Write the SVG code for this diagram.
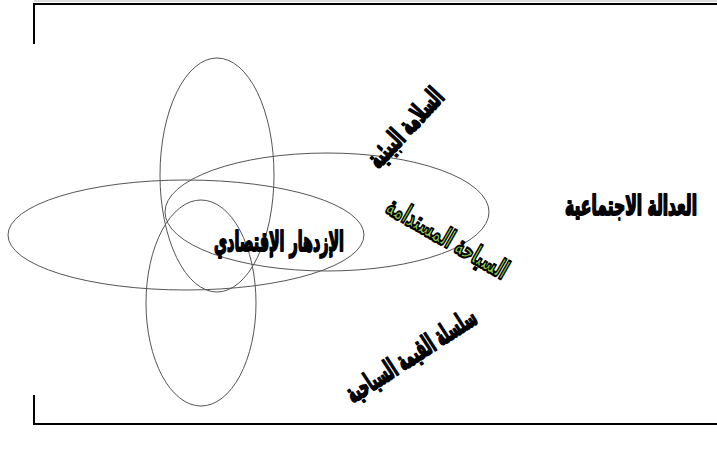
<svg xmlns="http://www.w3.org/2000/svg" width="717" height="452" viewBox="0 0 717 452">
<style>
.frame{stroke:#000;stroke-width:2;fill:none}
.ell{fill:none;stroke:#555;stroke-width:1}
.lbl{font-family:"DejaVu Sans Condensed","DejaVu Sans",sans-serif;font-weight:bold;font-size:15px;fill:#000;stroke:#000;stroke-width:1;stroke-linejoin:round}
.green{fill:#8ed04a;stroke:#000;stroke-width:1.2}
</style>
<rect width="717" height="452" fill="#fff"/>
<g id="frame">
<line x1="34" y1="1" x2="717" y2="1" stroke="#bbb" stroke-width="1"/>
<polyline class="frame" points="34,44 34,4 717,4"/>
<polyline class="frame" points="34,395 34,424 717,424"/>
</g>
<g id="connectors"></g>
<g id="ellipse-top"><ellipse class="ell" cx="217" cy="175" rx="57" ry="117"/></g>
<g id="ellipse-left"><ellipse class="ell" cx="186" cy="235" rx="178" ry="55"/></g>
<g id="ellipse-right"><ellipse class="ell" cx="327" cy="212" rx="162" ry="59"/></g>
<g id="ellipse-bottom"><ellipse class="ell" cx="201" cy="303" rx="55" ry="103"/></g>
<g id="social-justice">
<text class="lbl" transform="translate(631,215) scale(1,1.8)" text-anchor="middle" direction="rtl" textLength="132" lengthAdjust="spacingAndGlyphs">العدالة الاجتماعية</text>
</g>
<g id="economic-prosperity">
<text class="lbl" transform="translate(279,251) scale(1,1.8)" text-anchor="middle" direction="rtl" textLength="130" lengthAdjust="spacingAndGlyphs">الإزدهار الإقتصادي</text>
</g>
<g id="environmental-safety">
<text class="lbl" transform="translate(412,134) rotate(-47) scale(1,1.8)" text-anchor="middle" direction="rtl" textLength="98" lengthAdjust="spacingAndGlyphs">السلامة البيئية</text>
</g>
<g id="sustainable-tourism">
<text class="lbl green" transform="translate(443,246) rotate(30) scale(1,1.8)" text-anchor="middle" direction="rtl" textLength="136" lengthAdjust="spacingAndGlyphs">السياحة المستدامة</text>
</g>
<g id="value-chain">
<text class="lbl" transform="translate(416,363) rotate(-33) scale(1,1.8)" text-anchor="middle" direction="rtl" textLength="150" lengthAdjust="spacingAndGlyphs">سلسلة القيمة السياحية</text>
</g>
</svg>
